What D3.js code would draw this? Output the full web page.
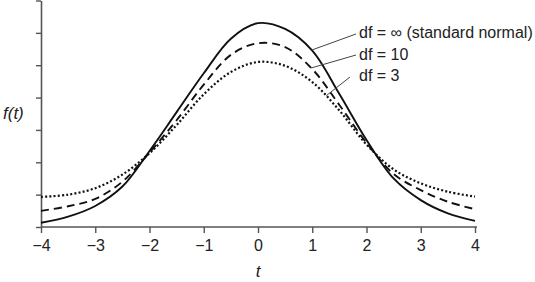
<!DOCTYPE html>
<html>
<head>
<meta charset="utf-8">
<script src="https://cdn.jsdelivr.net/npm/d3@7"></script>
<style>
  body { margin: 0; background: #fff; }
  text { font-family: "Liberation Sans Narrow", "Liberation Sans", Arial, sans-serif; fill: #222; }
</style>
</head>
<body>
<div id="chart"></div>
<script>
const tValues = [-4, -3.5, -3, -2.5, -2, -1.5, -1, -0.5, 0, 0.5, 1, 1.5, 2, 2.5, 3, 3.5, 4];

// heights in y-tick units (axis has 8 unlabelled ticks, 0..7)
const normalVals = [0.13, 0.32, 0.65, 1.25, 2.35, 3.55, 4.75, 5.82, 6.30, 6.12, 5.45, 4.11, 2.69, 1.50, 0.83, 0.42, 0.19];
const df10Vals   = [0.50, 0.64, 0.87, 1.40, 2.30, 3.30, 4.40, 5.32, 5.68, 5.56, 4.88, 3.77, 2.60, 1.64, 1.14, 0.78, 0.55];
const df3Vals    = [0.93, 1.00, 1.20, 1.62, 2.28, 3.15, 4.10, 4.79, 5.10, 4.98, 4.48, 3.60, 2.55, 1.78, 1.35, 1.09, 0.94];

const xTicks = [-4, -3, -2, -1, 0, 1, 2, 3, 4];
const yTicks = [0, 1, 2, 3, 4, 5, 6, 7];

const seriesNames = ["df = \u221e (standard normal)", "df = 10", "df = 3"];
const seriesVals = [normalVals, df10Vals, df3Vals];
const labelAnchorT = [0.99, 0.98, 1.26];   // where each leader line touches its curve

const width = 535, height = 282,
  margin = {top: 0, right: 60, bottom: 55, left: 41};

const svg = d3.select("#chart")
  .append("svg")
  .attr("width", width)
  .attr("height", height);

const x = d3.scaleLinear([-4, 4], [margin.left, 475]);
const y = d3.scaleLinear([0, 7], [227, 0.5]);

// x axis
const xAxis = svg.append("g")
  .attr("transform", `translate(0,${y(0)})`)
  .call(d3.axisBottom(x).tickValues(xTicks).tickSize(6).tickSizeOuter(0)
    .tickFormat(d => d < 0 ? "\u2212" + Math.abs(d) : d));
xAxis.select(".domain").attr("d", `M${margin.left},0H${x(4) + 2}`);

// y axis, no labels
const yAxis = svg.append("g")
  .attr("transform", `translate(${margin.left},0)`)
  .call(d3.axisLeft(y).tickValues(yTicks).tickSize(5).tickSizeOuter(0).tickFormat(""));

svg.selectAll(".domain").attr("stroke", "#555").attr("stroke-width", 1.6);
svg.selectAll(".tick line").attr("stroke", "#555").attr("stroke-width", 1.4);
xAxis.selectAll(".tick text")
  .attr("y", 13)
  .style("font-size", "16px")
  .style("fill", "#222");

// axis titles
svg.append("text")
  .attr("x", x(0))
  .attr("y", 277)
  .attr("text-anchor", "middle")
  .style("font-style", "italic")
  .style("font-size", "17px")
  .text("t");

svg.append("text")
  .attr("x", 3)
  .attr("y", 119)
  .style("font-style", "italic")
  .style("font-size", "17px")
  .text("f(t)");

// curves
const line = d3.line()
  .x((d, i) => x(tValues[i]))
  .y(d => y(d))
  .curve(d3.curveCatmullRom);

const dashes = [null, "8,5", "2,2.2"];

const paths = svg.append("g")
  .selectAll("path")
  .data(seriesVals)
  .join("path")
  .attr("d", line)
  .attr("fill", "none")
  .attr("stroke", "#111")
  .attr("stroke-width", (d, i) => i == 2 ? 2.2 : 1.9)
  .attr("stroke-dasharray", (d, i) => dashes[i]);

// find the y of a path at a given pixel x
function pointAtX(node, px) {
  let lo = 0, hi = node.getTotalLength();
  for (let k = 0; k < 40; k++) {
    const mid = (lo + hi) / 2;
    if (node.getPointAtLength(mid).x < px) lo = mid; else hi = mid;
  }
  return node.getPointAtLength(lo);
}

// labels with leader lines
const labelPos = [{x: 359, y: 38, lx: 356, ly: 34}, {x: 359, y: 60, lx: 356, ly: 55}, {x: 359, y: 81, lx: 350, ly: 77}];

paths.each(function(d, i) {
  const p = pointAtX(this, x(labelAnchorT[i]));
  svg.append("line")
    .attr("x1", labelPos[i].lx)
    .attr("y1", labelPos[i].ly)
    .attr("x2", p.x)
    .attr("y2", p.y)
    .attr("stroke", "#444")
    .attr("stroke-width", 1);
  svg.append("text")
    .attr("x", labelPos[i].x)
    .attr("y", labelPos[i].y)
    .style("font-size", "16px")
    .text(seriesNames[i]);
});
</script>
</body>
</html>
